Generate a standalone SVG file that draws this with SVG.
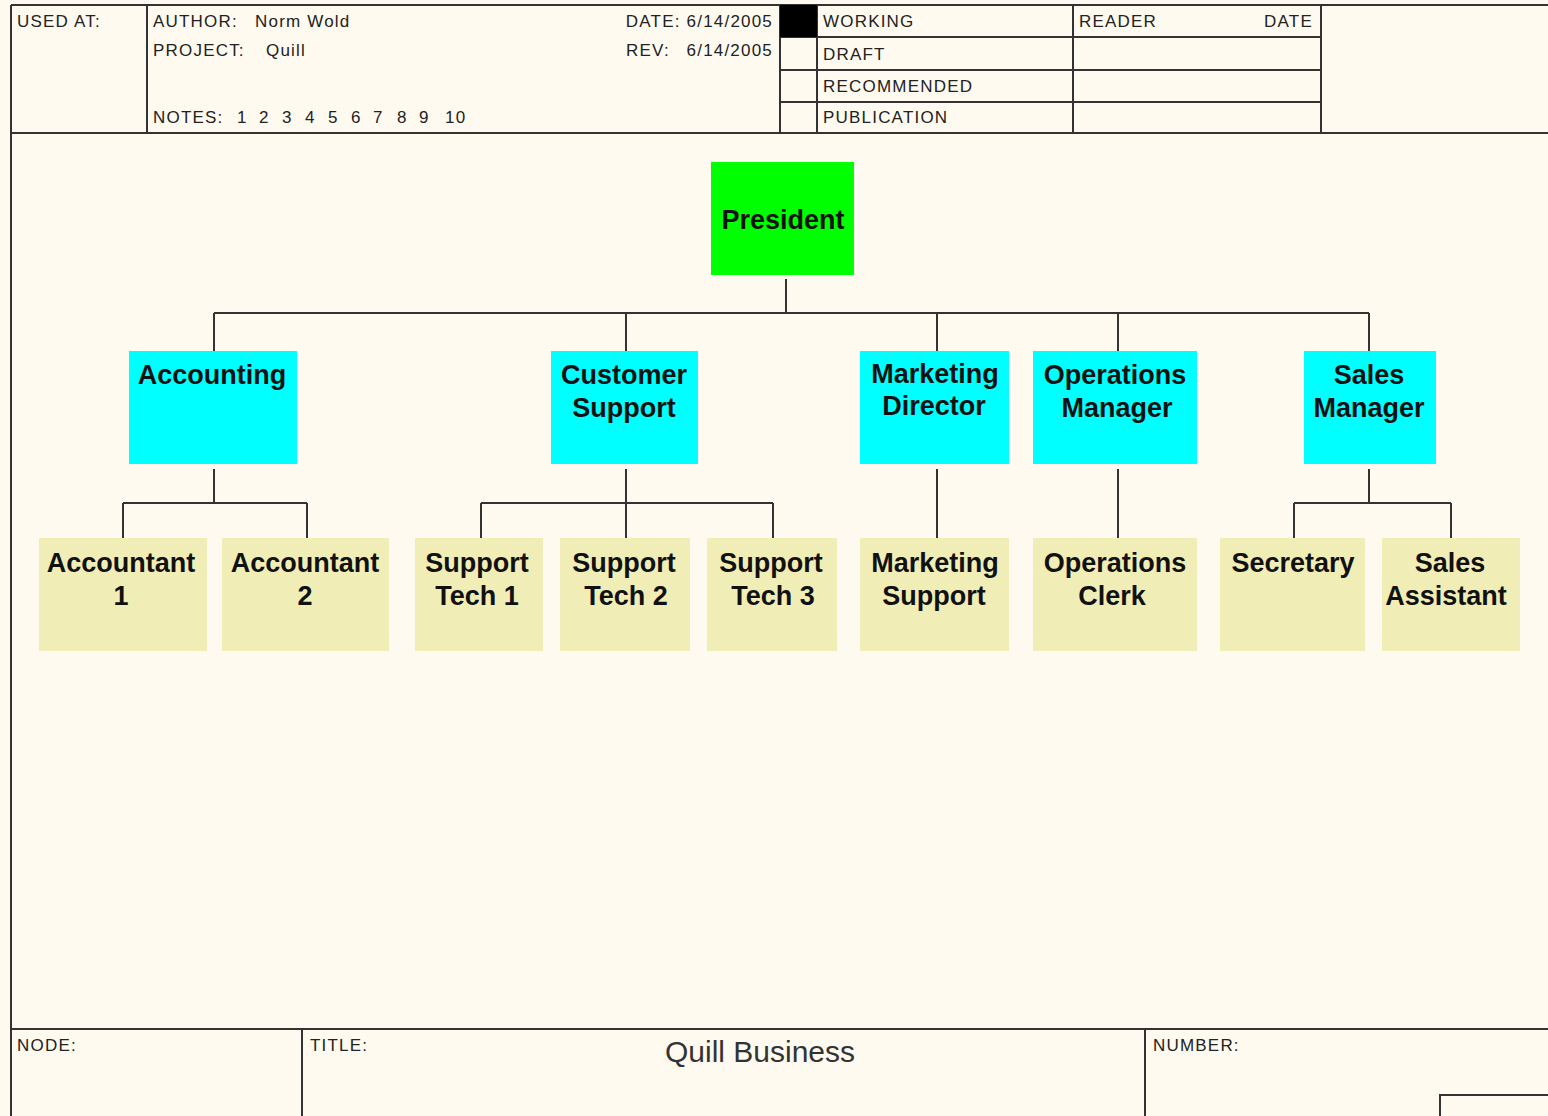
<svg xmlns="http://www.w3.org/2000/svg" width="1548" height="1116" viewBox="0 0 1548 1116">
  <style>
    .frame { stroke: #333; stroke-width: 2; fill: none; }
    .hdr { font-family: "Liberation Sans", Arial, sans-serif; font-size: 17px; letter-spacing: 1.2px; fill: #222; }
    .lvl1 { fill: #00FF00; }
    .lvl2 { fill: #00FFFF; }
    .lvl3 { fill: #F0EEB6; }
    .lbl { font-family: "Liberation Sans", Arial, sans-serif; font-size: 27px; font-weight: bold; fill: #111; text-anchor: middle; }
    .conn { stroke: #333; stroke-width: 2; fill: none; }
  </style>

  <!-- sheet background -->
  <rect x="0" y="0" width="1548" height="1116" fill="#FEFAF0"/>

  <!-- drawing frame: header block -->
  <g id="header">
    <path class="frame" d="M11 5 H1548 M11 5 V1116 M11 133 H1548 M147 5 V133 M780 5 V133 M817 5 V133 M1073 5 V133 M1321 5 V133 M780 37 H1321 M780 70 H1321 M780 102 H1321"/>
    <rect x="780" y="5" width="37" height="32" fill="#000"/>
    <text class="hdr" x="17" y="27">USED AT:</text>
    <text class="hdr" x="153" y="27">AUTHOR:</text>
    <text class="hdr" x="255" y="27">Norm Wold</text>
    <text class="hdr" x="153" y="56">PROJECT:</text>
    <text class="hdr" x="266" y="56">Quill</text>
    <text class="hdr" x="153" y="123">NOTES:</text>
    <text class="hdr" x="237" y="123">1</text>
    <text class="hdr" x="259" y="123">2</text>
    <text class="hdr" x="282" y="123">3</text>
    <text class="hdr" x="305" y="123">4</text>
    <text class="hdr" x="328" y="123">5</text>
    <text class="hdr" x="351" y="123">6</text>
    <text class="hdr" x="373" y="123">7</text>
    <text class="hdr" x="397" y="123">8</text>
    <text class="hdr" x="419" y="123">9</text>
    <text class="hdr" x="445" y="123">10</text>
    <text class="hdr" x="773" y="27" text-anchor="end">DATE: 6/14/2005</text>
    <text class="hdr" x="626" y="56">REV:</text>
    <text class="hdr" x="773" y="56" text-anchor="end">6/14/2005</text>
    <text class="hdr" x="823" y="27">WORKING</text>
    <text class="hdr" x="823" y="60">DRAFT</text>
    <text class="hdr" x="823" y="92">RECOMMENDED</text>
    <text class="hdr" x="823" y="123">PUBLICATION</text>
    <text class="hdr" x="1079" y="27">READER</text>
    <text class="hdr" x="1313" y="27" text-anchor="end">DATE</text>
  </g>

  <!-- drawing frame: title strip -->
  <g id="footer">
    <path class="frame" d="M11 1029 H1548 M302 1029 V1116 M1145 1029 V1116 M1440 1116 V1095 H1548"/>
    <text class="hdr" x="17" y="1051">NODE:</text>
    <text class="hdr" x="310" y="1051">TITLE:</text>
    <text class="hdr" x="1153" y="1051">NUMBER:</text>
    <text x="760" y="1062" text-anchor="middle" font-family="Liberation Sans, Arial, sans-serif" font-size="30" fill="#333">Quill Business</text>
  </g>

  <!-- reporting lines -->
  <g id="connectors">
    <path class="conn" d="M786 279 V313 M214 313 H1369 M214 313 V351 M626 313 V351 M937 313 V351 M1118 313 V351 M1369 313 V351"/>
    <path class="conn" d="M214 469 V503 M123 503 H307 M123 503 V538 M307 503 V538"/>
    <path class="conn" d="M626 469 V538 M481 503 H773 M481 503 V538 M773 503 V538"/>
    <path class="conn" d="M937 469 V538"/>
    <path class="conn" d="M1118 469 V538"/>
    <path class="conn" d="M1369 469 V503 M1294 503 H1451 M1294 503 V538 M1451 503 V538"/>
  </g>

  <g id="president">
    <rect class="lvl1" x="711" y="162" width="143" height="113"/>
    <text class="lbl" x="783" y="229">President</text>
  </g>

  <g id="accounting">
    <rect class="lvl2" x="129" y="351" width="168" height="113"/>
    <text class="lbl" x="212" y="384">Accounting</text>
  </g>
  <g id="customer-support">
    <rect class="lvl2" x="551" y="351" width="147" height="113"/>
    <text class="lbl" x="624" y="384">Customer</text>
    <text class="lbl" x="624" y="417">Support</text>
  </g>
  <g id="marketing-director">
    <rect class="lvl2" x="860" y="351" width="149" height="113"/>
    <text class="lbl" x="935" y="383">Marketing</text>
    <text class="lbl" x="934" y="415">Director</text>
  </g>
  <g id="operations-manager">
    <rect class="lvl2" x="1033" y="351" width="164" height="113"/>
    <text class="lbl" x="1115" y="384">Operations</text>
    <text class="lbl" x="1117" y="417">Manager</text>
  </g>
  <g id="sales-manager">
    <rect class="lvl2" x="1304" y="351" width="132" height="113"/>
    <text class="lbl" x="1369" y="384">Sales</text>
    <text class="lbl" x="1369" y="417">Manager</text>
  </g>

  <g id="accountant-1">
    <rect class="lvl3" x="39" y="538" width="168" height="113"/>
    <text class="lbl" x="121" y="572">Accountant</text>
    <text class="lbl" x="121" y="605">1</text>
  </g>
  <g id="accountant-2">
    <rect class="lvl3" x="222" y="538" width="167" height="113"/>
    <text class="lbl" x="305" y="572">Accountant</text>
    <text class="lbl" x="305" y="605">2</text>
  </g>
  <g id="support-tech-1">
    <rect class="lvl3" x="415" y="538" width="128" height="113"/>
    <text class="lbl" x="477" y="572">Support</text>
    <text class="lbl" x="477" y="605">Tech 1</text>
  </g>
  <g id="support-tech-2">
    <rect class="lvl3" x="560" y="538" width="130" height="113"/>
    <text class="lbl" x="624" y="572">Support</text>
    <text class="lbl" x="626" y="605">Tech 2</text>
  </g>
  <g id="support-tech-3">
    <rect class="lvl3" x="707" y="538" width="130" height="113"/>
    <text class="lbl" x="771" y="572">Support</text>
    <text class="lbl" x="773" y="605">Tech 3</text>
  </g>
  <g id="marketing-support">
    <rect class="lvl3" x="860" y="538" width="149" height="113"/>
    <text class="lbl" x="935" y="572">Marketing</text>
    <text class="lbl" x="934" y="605">Support</text>
  </g>
  <g id="operations-clerk">
    <rect class="lvl3" x="1033" y="538" width="164" height="113"/>
    <text class="lbl" x="1115" y="572">Operations</text>
    <text class="lbl" x="1112" y="605">Clerk</text>
  </g>
  <g id="secretary">
    <rect class="lvl3" x="1220" y="538" width="145" height="113"/>
    <text class="lbl" x="1293" y="572">Secretary</text>
  </g>
  <g id="sales-assistant">
    <rect class="lvl3" x="1382" y="538" width="138" height="113"/>
    <text class="lbl" x="1450" y="572">Sales</text>
    <text class="lbl" x="1446" y="605">Assistant</text>
  </g>
</svg>
